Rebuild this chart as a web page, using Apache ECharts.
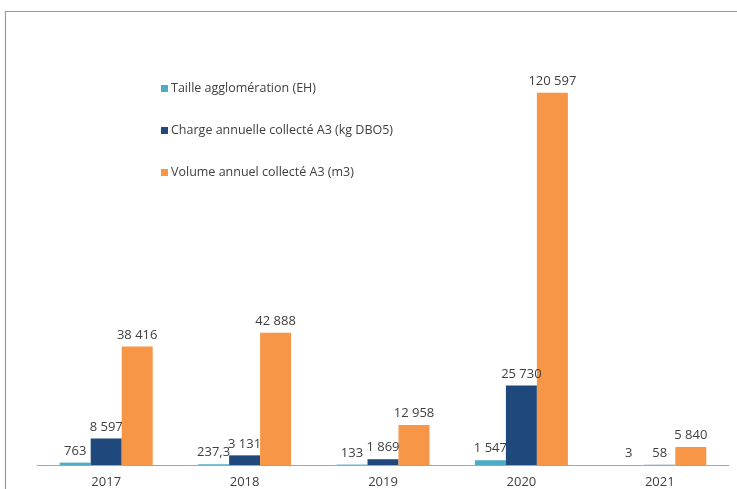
<!DOCTYPE html>
<html><head><meta charset="utf-8">
<script src="https://cdn.jsdelivr.net/npm/echarts@6/dist/echarts.min.js"></script>
<style>html,body{margin:0;padding:0;background:#fff}#c{width:737px;height:489px}</style>
</head><body><div id="c"></div>
<script>
const categories = ['2017','2018','2019','2020','2021'];
const taille = [763, 237.3, 133, 1547, 3];
const charge = [8597, 3131, 1869, 25730, 58];
const volume = [38416, 42888, 12958, 120597, 5840];
const seriesNames = ['Taille agglomération (EH)','Charge annuelle collecté A3 (kg DBO5)','Volume annuel collecté A3 (m3)'];
const colors = ['#4BACC6','#1F497D','#F79646'];

function fmt(v){
  const parts = String(v).split('.');
  parts[0] = parts[0].replace(/\B(?=(\d{3})+(?!\d))/g, '\u00a0');
  return parts.join(',');
}
const font = "'Open Sans', sans-serif";
const chart = echarts.init(document.getElementById('c'));
const mk = (name, data, color) => ({
  name, type:'bar', data, barWidth:31, barGap:'0%',
  itemStyle:{color},
  label:{show:true, position:'top', distance:5, color:'#404040', fontSize:13, fontFamily:font,
    formatter:p=>fmt(p.value)}
});
chart.setOption({
  animation:false,
  graphic:[{type:'rect', shape:{x:5.5,y:11.5,width:900,height:700}, style:{fill:'none', stroke:'#9a9a9a', lineWidth:1.2}, silent:true}],
  legend:{orient:'vertical', left:156, top:77, itemGap:29, itemWidth:7, itemHeight:7, icon:'rect',
    textStyle:{color:'#404040', fontSize:12.5, fontFamily:font, padding:[0,0,0,-2]}, data:seriesNames},
  grid:{left:37, right:8, top:33, bottom:18, containLabel:false},
  xAxis:{type:'category', data:categories,
    axisLine:{lineStyle:{color:'#a6a6a6'}}, axisTick:{show:false},
    axisLabel:{color:'#404040', fontSize:13, fontFamily:font, margin:11}},
  yAxis:{type:'value', min:0, max:140000, show:false, splitLine:{show:false}},
  series:[mk(seriesNames[0], taille, colors[0]), mk(seriesNames[1], charge, colors[1]), mk(seriesNames[2], volume, colors[2])]
});
</script></body></html>
